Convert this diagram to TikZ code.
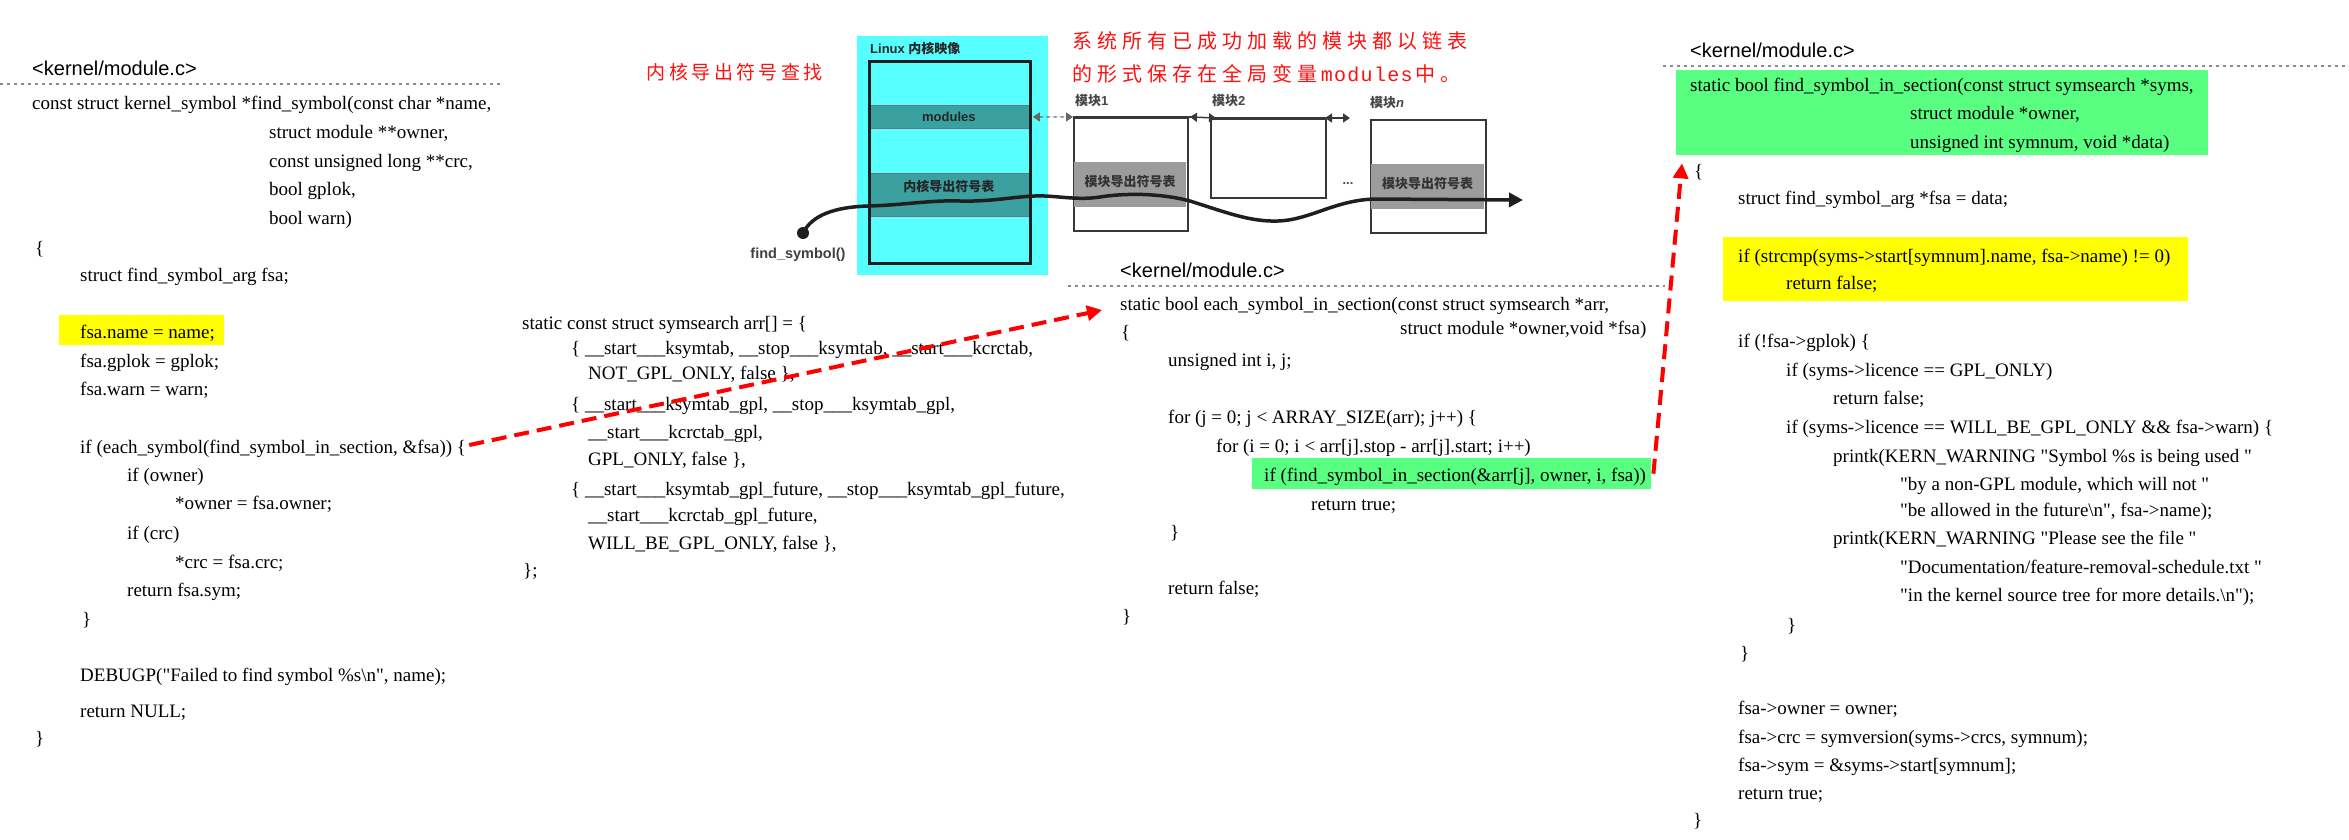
\documentclass[tikz,border=0pt]{standalone}
\usepackage{fontspec}
\setmainfont{Liberation Serif}
\newfontfamily\hdfont{Liberation Sans}
\newfontfamily\cjk{Noto Sans CJK SC}
\newfontfamily\rmono{Liberation Mono}
\usetikzlibrary{arrows.meta}
\definecolor{cyanbg}{RGB}{88,255,255}
\definecolor{tealband}{RGB}{58,160,160}
\definecolor{greenhl}{RGB}{88,255,128}
\definecolor{yellowhl}{RGB}{255,255,0}
\definecolor{grayband}{RGB}{156,156,156}
\definecolor{redtx}{RGB}{255,16,16}
\newcounter{codeln}
\newcommand\cl[3]{\stepcounter{codeln}\node[codeln] (c\arabic{codeln}) at (#1,#2) {#3};}
\newcommand\spacedtxt[2]{\def\spwidth{#1}\spacedstep#2\relax}
\def\spacedstep#1{\ifx\relax#1\else\makebox[\spwidth][c]{#1}\expandafter\spacedstep\fi}
\newcommand\qq{\textquotedbl}
\begin{document}
\begin{tikzpicture}[x=1pt,y=-1pt,
  codeln/.style={anchor=base west,inner sep=0pt,font=\fontsize{19}{23}\selectfont},
  hdr/.style={anchor=base west,inner sep=0pt,font=\hdfont\fontsize{20}{24}\selectfont},
  hlbox/.style={anchor=north west,inner sep=0pt,draw=none},
  dotl/.style={draw=black!45,line width=1.2pt,dash pattern=on 3pt off 4pt},
  redarrow/.style={draw=red,line width=4pt,dash pattern=on 15pt off 8pt,-{Triangle[length=15pt,width=15pt]}},
  diaglbl/.style={inner sep=0pt,font=\hdfont\bfseries\fontsize{13}{15}\selectfont,text=black!80},
  cjklbl/.style={inner sep=0pt,font=\cjk\bfseries\fontsize{13}{15}\selectfont,text=black!80},
  modbox/.style={anchor=north west,inner sep=0pt,draw=black!78,line width=2pt,fill=white},
  modband/.style={anchor=north west,inner sep=0pt,fill=grayband},
  tri/.style={{Triangle[length=7pt,width=9pt]}-{Triangle[length=7pt,width=9pt]}},
  redtxt/.style={anchor=base west,inner sep=0pt,text=redtx}]
\useasboundingbox (0,0) rectangle (2349,839);
\fill[white] (0,0) rectangle (2349,839);

% ---------- highlight boxes ----------
\node[hlbox,fill=yellowhl,minimum width=165pt,minimum height=30pt] (yb1) at (59,315) {};
\node[hlbox,fill=greenhl,minimum width=399pt,minimum height=31pt] (gb1) at (1252,458) {};
\node[hlbox,fill=greenhl,minimum width=532pt,minimum height=85pt] (gb2) at (1676,70) {};
\node[hlbox,fill=yellowhl,minimum width=465pt,minimum height=64pt] (yb2) at (1723,237) {};

% ---------- left block ----------
\node[hdr] (h1) at (32,75) {<kernel/module.c>};
\draw[dotl] (0,84) -- (502,84);
\cl{32}{109}{const struct kernel\_symbol *find\_symbol(const char *name,}
\cl{269}{138}{struct module **owner,}
\cl{269}{167}{const unsigned long **crc,}
\cl{269}{195}{bool gplok,}
\cl{269}{224}{bool warn)}
\cl{35}{254}{\{}
\cl{80}{281}{struct find\_symbol\_arg fsa;}
\cl{80}{338}{fsa.name = name;}
\cl{80}{367}{fsa.gplok = gplok;}
\cl{80}{395}{fsa.warn = warn;}
\node[codeln] (each) at (80,453) {if (each\_symbol(find\_symbol\_in\_section, \&fsa)) \{};
\cl{127}{481}{if (owner)}
\cl{175}{509}{*owner = fsa.owner;}
\cl{127}{539}{if (crc)}
\cl{175}{568}{*crc = fsa.crc;}
\cl{127}{596}{return fsa.sym;}
\cl{82}{625}{\}}
\cl{80}{681}{DEBUGP(\qq Failed to find symbol \%s\textbackslash n\qq, name);}
\cl{80}{717}{return NULL;}
\cl{35}{744}{\}}

% ---------- middle block ----------
\cl{522}{329}{static const struct symsearch arr[] = \{}
\cl{571}{354}{\{ \_\_start\_\_\_ksymtab, \_\_stop\_\_\_ksymtab, \_\_start\_\_\_kcrctab,}
\cl{588}{379}{NOT\_GPL\_ONLY, false \},}
\cl{571}{410}{\{ \_\_start\_\_\_ksymtab\_gpl, \_\_stop\_\_\_ksymtab\_gpl,}
\cl{588}{438}{\_\_start\_\_\_kcrctab\_gpl,}
\cl{588}{465}{GPL\_ONLY, false \},}
\cl{571}{495}{\{ \_\_start\_\_\_ksymtab\_gpl\_future, \_\_stop\_\_\_ksymtab\_gpl\_future,}
\cl{588}{521}{\_\_start\_\_\_kcrctab\_gpl\_future,}
\cl{588}{549}{WILL\_BE\_GPL\_ONLY, false \},}
\cl{523}{576}{\};}

% ---------- middle-right block ----------
\node[hdr] (h2) at (1120,277) {<kernel/module.c>};
\draw[dotl] (1068,286) -- (1665,286);
\node[codeln] (eachsec) at (1120,310) {static bool each\_symbol\_in\_section(const struct symsearch *arr,};
\cl{1400}{334}{struct module *owner,void *fsa)}
\cl{1121}{338}{\{}
\cl{1168}{366}{unsigned int i, j;}
\cl{1168}{423}{for (j = 0; j < ARRAY\_SIZE(arr); j++) \{}
\cl{1216}{452}{for (i = 0; i < arr[j].stop - arr[j].start; i++)}
\cl{1264}{481}{if (find\_symbol\_in\_section(\&arr[j], owner, i, fsa))}
\cl{1311}{510}{return true;}
\cl{1170}{538}{\}}
\cl{1168}{594}{return false;}
\cl{1122}{622}{\}}

% ---------- right block ----------
\node[hdr] (h3) at (1690,57) {<kernel/module.c>};
\draw[dotl] (1663,66) -- (2349,66);
\cl{1690}{91}{static bool find\_symbol\_in\_section(const struct symsearch *syms,}
\cl{1910}{119}{struct module *owner,}
\cl{1910}{148}{unsigned int symnum, void *data)}
\cl{1694}{177}{\{}
\cl{1738}{204}{struct find\_symbol\_arg *fsa = data;}
\cl{1738}{262}{if (strcmp(syms->start[symnum].name, fsa->name) != 0)}
\cl{1786}{289}{return false;}
\cl{1738}{347}{if (!fsa->gplok) \{}
\cl{1786}{376}{if (syms->licence == GPL\_ONLY)}
\cl{1833}{404}{return false;}
\cl{1786}{433}{if (syms->licence == WILL\_BE\_GPL\_ONLY \&\& fsa->warn) \{}
\cl{1833}{462}{printk(KERN\_WARNING \qq Symbol \%s is being used \qq}
\cl{1900}{490}{\qq by a non-GPL module, which will not \qq}
\cl{1900}{516}{\qq be allowed in the future\textbackslash n\qq, fsa->name);}
\cl{1833}{544}{printk(KERN\_WARNING \qq Please see the file \qq}
\cl{1900}{573}{\qq Documentation/feature-removal-schedule.txt \qq}
\cl{1900}{601}{\qq in the kernel source tree for more details.\textbackslash n\qq);}
\cl{1787}{631}{\}}
\cl{1740}{659}{\}}
\cl{1738}{714}{fsa->owner = owner;}
\cl{1738}{743}{fsa->crc = symversion(syms->crcs, symnum);}
\cl{1738}{771}{fsa->sym = \&syms->start[symnum];}
\cl{1738}{799}{return true;}
\cl{1693}{826}{\}}

% ---------- red notes ----------
\node[redtxt,font=\cjk\fontsize{19}{22}\selectfont] (rt1) at (645,79) {\spacedtxt{22.4pt}{内核导出符号查找}};
\node[redtxt,font=\cjk\fontsize{20}{24}\selectfont] (rt2) at (1070,48) {\spacedtxt{25pt}{系统所有已成功加载的模块都以链表}};
\node[redtxt,font=\cjk\fontsize{20}{24}\selectfont] (rt3) at (1070,81) {\spacedtxt{25pt}{的形式保存在全局变量}{\rmono\spacedtxt{13.3pt}{modules}}\spacedtxt{25pt}{中。}};

% ---------- kernel image ----------
\node[hlbox,fill=cyanbg,minimum width=191pt,minimum height=239pt] (cyan) at (857,36) {};
\node[diaglbl,anchor=base west,text=black!85] (ktitle) at (870,53) {Linux {\cjk\bfseries 内核映像}};
\node[hlbox,fill=tealband,draw=black!55,line width=0.8pt,minimum width=161pt,minimum height=23pt] (kband1) at (868,105) {};
\node[diaglbl,text=black!85] (kb1t) at (kband1.center) {modules};
\node[hlbox,fill=tealband,draw=black!55,line width=0.8pt,minimum width=161pt,minimum height=43pt] (kband2) at (868,173) {};
\node[cjklbl,text=black!85] (kb2t) at ([yshift=8pt]kband2.center) {内核导出符号表};
\node[hlbox,draw=black!88,line width=3pt,minimum width=161pt,minimum height=202pt] (kimg) at (868,60) {};

% ---------- modules ----------
\node[modbox,minimum width=114pt,minimum height=113pt] (m1) at (1073,117) {};
\node[modband,minimum width=112pt,minimum height=45pt] (m1b) at (1074,162) {};
\node[cjklbl] (m1t) at ([yshift=3pt]m1b.center) {模块导出符号表};
\node[modbox,minimum width=115pt,minimum height=79pt] (m2) at (1210,118) {};
\node[modbox,minimum width=115pt,minimum height=113pt] (mn) at (1370,119) {};
\node[modband,minimum width=113pt,minimum height=45pt] (mnb) at (1371,164) {};
\node[cjklbl] (mnt) at ([yshift=3pt]mnb.center) {模块导出符号表};
\node[cjklbl,anchor=base west,text=black!72] (l1) at (1075,105) {模块\hdfont 1};
\node[cjklbl,anchor=base west,text=black!72] (l2) at (1212,105) {模块\hdfont 2};
\node[cjklbl,anchor=base west,text=black!72] (ln) at (1370,107) {模块\hdfont\itshape n};
\node[diaglbl,text=black!70] (dots) at (1348,184) {...};
\draw[black!78,line width=2pt] (m1.north west) -- ++(124,0) coordinate (m1e);
\draw[black!78,line width=2pt] (m2.north west) -- ++(123,0) coordinate (m2e);
\draw[dotl,tri,draw=black!60,fill=black!78] ([xshift=3pt]kband1.east) -- (m1.north west);
\draw[black!78,line width=1.5pt,tri,fill=black!78] ([xshift=-7pt]m1e) -- ([xshift=6pt]m2.north west);
\draw[black!78,line width=1.5pt,tri,fill=black!78] ([xshift=-8pt]m2e) -- ([xshift=17pt]m2e);

% ---------- find_symbol curve ----------
\node[circle,fill=black!88,inner sep=0pt,minimum size=12pt] (fsdot) at (803,233) {};
\node[diaglbl,font=\hdfont\bfseries\fontsize{14.5}{17}\selectfont,text=black!75] (fslbl) at (798,255) {find\_symbol()};
\coordinate (fsend) at (1523,200);
\draw[black!88,line width=3.5pt,-{Triangle[length=14pt,width=14pt]}]
  (fsdot.center) .. controls (812,215) and (835,207) .. (868,206)
  .. controls (905,205) and (930,200) .. (960,201)
  .. controls (995,202) and (1020,195) .. (1045,196)
  .. controls (1065,197) and (1080,200) .. (1100,197)
  .. controls (1125,193) and (1160,193) .. (1190,201)
  .. controls (1225,212) and (1250,222) .. (1278,221)
  .. controls (1310,220) and (1335,200) .. (1375,199)
  -- (fsend);

% ---------- red connectors ----------
\draw[redarrow] ([xshift=3pt,yshift=8pt]each.base east) -- ([xshift=-18pt]eachsec.base west);
\draw[redarrow] ([xshift=2pt]gb1.east) -- ([xshift=6pt,yshift=-8pt]gb2.south west);
\end{tikzpicture}
\end{document}
